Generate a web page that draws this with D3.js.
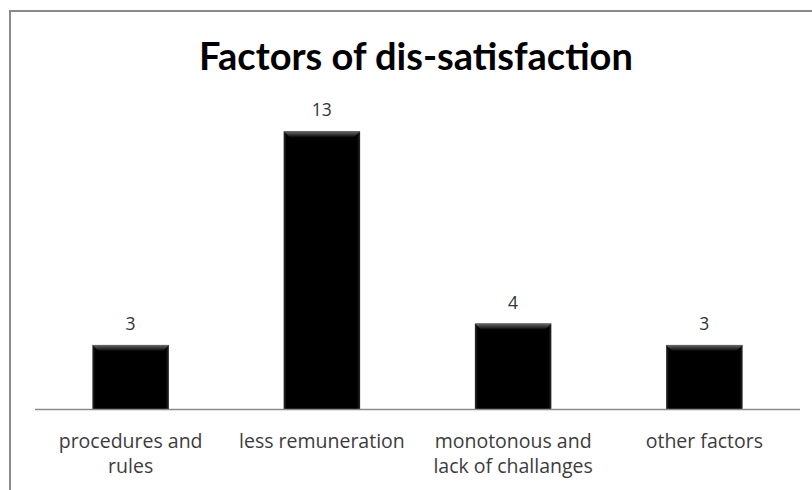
<!DOCTYPE html>
<html>
<head>
<meta charset="utf-8">
<script src="https://cdn.jsdelivr.net/npm/d3@7"></script>
<style>
  html, body { margin: 0; padding: 0; background: #fff; }
  svg { display: block; }
</style>
</head>
<body>
<svg id="chart" width="812" height="490"></svg>
<script>
// Survey results: number of respondents per dis-satisfaction factor
const categories = [
  ["procedures and", "rules"],
  ["less remuneration"],
  ["monotonous and", "lack of challanges"],
  ["other factors"]
];
const values = [3, 13, 4, 3];
const title = "Factors of dis-satisfaction";

const W = 812, H = 490;
const svg = d3.select("#chart");

// Outer chart frame
svg.append("rect")
  .attr("x", 10).attr("y", 11)
  .attr("width", W + 20).attr("height", H + 20)
  .attr("fill", "#fff")
  .attr("stroke", "#8a8a8a")
  .attr("stroke-width", 2);

const x = d3.scaleBand()
  .domain(d3.range(values.length))
  .range([35, 800])
  .paddingInner(0.6)
  .paddingOuter(0.3);

const y = d3.scaleLinear()
  .domain([0, 14])
  .range([409, 110]);

// Bevel gradients
const defs = svg.append("defs");
const topGrad = defs.append("linearGradient")
  .attr("id", "bevelTop").attr("x1", 0).attr("y1", 0).attr("x2", 0).attr("y2", 1);
topGrad.append("stop").attr("offset", "0%").attr("stop-color", "#6a6a6a");
topGrad.append("stop").attr("offset", "100%").attr("stop-color", "#050505");

const sideGrad = defs.append("linearGradient")
  .attr("id", "bevelSide").attr("x1", 0).attr("y1", 0).attr("x2", 1).attr("y2", 0);
sideGrad.append("stop").attr("offset", "0%").attr("stop-color", "#2a2a2a");
sideGrad.append("stop").attr("offset", "4%").attr("stop-color", "#000");
sideGrad.append("stop").attr("offset", "96%").attr("stop-color", "#000");
sideGrad.append("stop").attr("offset", "100%").attr("stop-color", "#2a2a2a");

const bars = svg.append("g").selectAll("g.bar")
  .data(values)
  .join("g")
  .attr("class", "bar");

bars.append("rect")
  .attr("x", (d, i) => x(i))
  .attr("y", d => y(d))
  .attr("width", x.bandwidth())
  .attr("height", d => y(0) - y(d))
  .attr("fill", "url(#bevelSide)");

// top bevel highlight
const bev = 6;
bars.append("path")
  .attr("d", (d, i) => {
    const x0 = x(i), x1 = x(i) + x.bandwidth(), t = y(d);
    return `M${x0},${t}L${x1},${t}L${x1 - bev},${t + bev}L${x0 + bev},${t + bev}Z`;
  })
  .attr("fill", "url(#bevelTop)");

// Axis baseline
const xAxis = d3.axisBottom(x).tickSize(0).tickFormat("");
svg.append("g")
  .attr("transform", `translate(0,${y(0)})`)
  .call(xAxis)
  .call(g => g.select(".domain")
    .attr("d", `M35,0.5H800`)
    .attr("stroke", "#8a8a8a")
    .attr("stroke-width", 1.5));

// Category labels
const labels = svg.append("g").selectAll("text.cat")
  .data(categories)
  .join("text")
  .attr("class", "cat")
  .attr("text-anchor", "middle")
  .attr("font-family", "'Open Sans', sans-serif")
  .attr("font-size", 19.5)
  .attr("fill", "#3c3c3c")
  .attr("transform", (d, i) => `translate(${x(i) + x.bandwidth() / 2},448)`);
labels.selectAll("tspan")
  .data(d => d)
  .join("tspan")
  .attr("x", 0)
  .attr("dy", (d, j) => j === 0 ? 0 : 25)
  .text(d => d);

// Value labels
svg.append("g").selectAll("text.val")
  .data(values)
  .join("text")
  .attr("class", "val")
  .attr("text-anchor", "middle")
  .attr("font-family", "'Open Sans', sans-serif")
  .attr("font-size", 17.5)
  .attr("fill", "#333")
  .attr("x", (d, i) => x(i) + x.bandwidth() / 2)
  .attr("y", d => y(d) - 15)
  .text(d => d);

// Title
svg.append("text")
  .attr("x", 416)
  .attr("y", 70)
  .attr("text-anchor", "middle")
  .attr("font-family", "Lato, sans-serif")
  .attr("font-weight", "bold")
  .attr("font-size", 38)
  .attr("fill", "#000")
  .text(title);
</script>
</body>
</html>
